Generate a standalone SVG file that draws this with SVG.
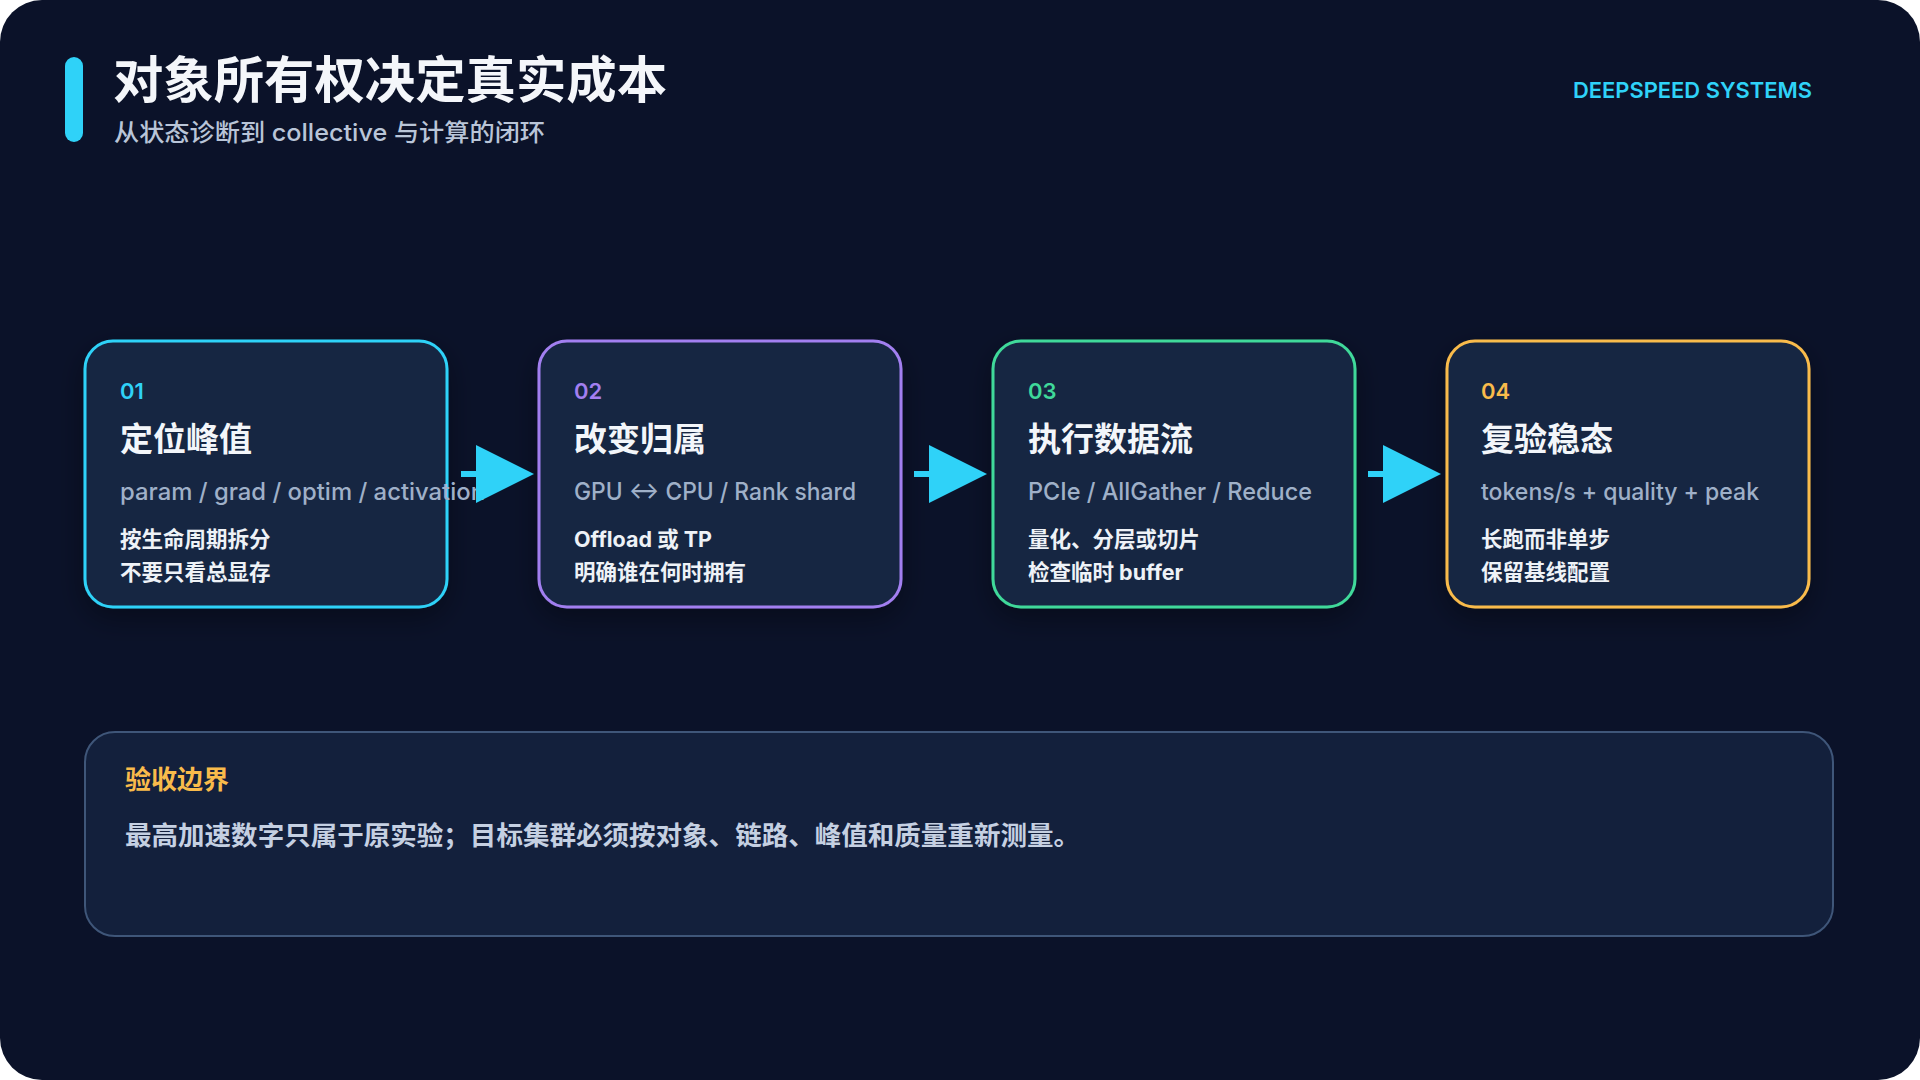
<svg xmlns="http://www.w3.org/2000/svg" width="1920" height="1080" viewBox="0 0 1920 1080">
  <style>
    text { font-family: Inter, "Noto Sans CJK SC", "Liberation Sans", sans-serif; }
    .card { fill: #172842; stroke-width: 3; }
    .num { font-size: 22px; font-weight: 600; }
    .ttl { font-size: 33px; font-weight: 700; fill: #f3f6fa; }
    .sub { font-size: 24px; font-weight: 500; fill: #9fb0c8; }
    .body { font-size: 21.5px; font-weight: 700; fill: #eef2f7; }
    .conn { stroke: #2fd2f8; stroke-width: 6; fill: none; }
  </style>
  <defs>
    <filter id="shadow" x="-20%" y="-20%" width="140%" height="150%">
      <feDropShadow dx="0" dy="10" stdDeviation="14" flood-color="#000000" flood-opacity="0.35"/>
    </filter>
    <marker id="arrow" markerUnits="userSpaceOnUse" markerWidth="58" markerHeight="58" viewBox="0 0 57 57" refX="0" refY="28.5" orient="auto">
      <path d="M0,0 L57,28.5 L0,57 Z" fill="#2fd2f8"/>
    </marker>
  </defs>

  <rect x="0" y="0" width="1920" height="1080" fill="#ffffff"/>
  <rect x="0" y="0" width="1920" height="1080" rx="42" fill="#0b1229"/>

  <g id="header">
    <rect x="65" y="57" width="18" height="85" rx="9" fill="#2fd2f8"/>
    <text x="113" y="98" font-size="50" font-weight="700" fill="#f4f6fa" textLength="554" lengthAdjust="spacingAndGlyphs">对象所有权决定真实成本</text>
    <text x="114" y="141" font-size="24" font-weight="500" fill="#b9c5d8" textLength="431" lengthAdjust="spacingAndGlyphs">从状态诊断到 collective 与计算的闭环</text>
    <text x="1573" y="98" font-size="22" font-weight="600" fill="#2fd2f8" textLength="239" lengthAdjust="spacingAndGlyphs">DEEPSPEED SYSTEMS</text>
  </g>

  <g id="node-01">
    <rect class="card" x="85" y="341" width="362" height="266" rx="28" stroke="#2fd2f8" filter="url(#shadow)"/>
    <text class="num" x="120" y="399" fill="#2fd2f8">01</text>
    <text class="ttl" x="120" y="451">定位峰值</text>
    <text class="sub" x="120" y="500" textLength="365" lengthAdjust="spacingAndGlyphs">param / grad / optim / activation</text>
    <text class="body" x="120" y="547">按生命周期拆分</text>
    <text class="body" x="120" y="580">不要只看总显存</text>
  </g>

  <g id="node-02">
    <rect class="card" x="539" y="341" width="362" height="266" rx="28" stroke="#a27ff0" filter="url(#shadow)"/>
    <text class="num" x="574" y="399" fill="#a27ff0">02</text>
    <text class="ttl" x="574" y="451">改变归属</text>
    <text class="sub" x="574" y="500" textLength="282" lengthAdjust="spacingAndGlyphs">GPU ↔ CPU / Rank shard</text>
    <text class="body" x="574" y="547">Offload 或 TP</text>
    <text class="body" x="574" y="580">明确谁在何时拥有</text>
  </g>

  <g id="node-03">
    <rect class="card" x="993" y="341" width="362" height="266" rx="28" stroke="#3fd99a" filter="url(#shadow)"/>
    <text class="num" x="1028" y="399" fill="#3fd99a">03</text>
    <text class="ttl" x="1028" y="451">执行数据流</text>
    <text class="sub" x="1028" y="500" textLength="284" lengthAdjust="spacingAndGlyphs">PCIe / AllGather / Reduce</text>
    <text class="body" x="1028" y="547">量化、分层或切片</text>
    <text class="body" x="1028" y="580">检查临时 buffer</text>
  </g>

  <g id="node-04">
    <rect class="card" x="1447" y="341" width="362" height="266" rx="28" stroke="#f9bb4b" filter="url(#shadow)"/>
    <text class="num" x="1481" y="399" fill="#f9bb4b">04</text>
    <text class="ttl" x="1481" y="451">复验稳态</text>
    <text class="sub" x="1481" y="500" textLength="278" lengthAdjust="spacingAndGlyphs">tokens/s + quality + peak</text>
    <text class="body" x="1481" y="547">长跑而非单步</text>
    <text class="body" x="1481" y="580">保留基线配置</text>
  </g>

  <g id="connectors">
    <line class="conn" x1="461" y1="474" x2="476" y2="474" marker-end="url(#arrow)"/>
    <line class="conn" x1="914" y1="474" x2="929" y2="474" marker-end="url(#arrow)"/>
    <line class="conn" x1="1368" y1="474" x2="1383" y2="474" marker-end="url(#arrow)"/>
  </g>

  <g id="boundary">
    <rect x="85" y="732" width="1748" height="204" rx="30" fill="#13203c" stroke="#3f5679" stroke-width="2"/>
    <text x="125" y="789" font-size="26" font-weight="700" fill="#f9bb4b">验收边界</text>
    <text x="125" y="845" font-size="26" font-weight="700" fill="#c5d0e2" textLength="955" lengthAdjust="spacingAndGlyphs">最高加速数字只属于原实验；目标集群必须按对象、链路、峰值和质量重新测量。</text>
  </g>
</svg>
